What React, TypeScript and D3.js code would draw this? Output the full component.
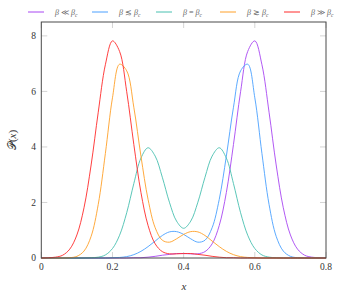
import { useEffect, useRef } from 'react';
import * as d3 from 'd3';

// x grid (0 to 0.8, step 0.02)
const xs = d3.range(0, 41).map(i => +(i * 0.02).toFixed(2));

const purple = [0, 0, 0, 0, 0, 0, 0, 0, 0, 0, 0, 0, 0, 0.01, 0.01, 0.03, 0.06, 0.10, 0.13, 0.16, 0.16, 0.15, 0.15, 0.23, 0.51, 1.17, 2.36, 4.09, 5.99, 7.44, 7.82, 6.96, 5.25, 3.35, 1.81, 0.83, 0.32, 0.10, 0.03, 0.01, 0];
const blue = [0, 0, 0, 0, 0, 0, 0, 0, 0, 0, 0.01, 0.02, 0.05, 0.12, 0.24, 0.41, 0.61, 0.81, 0.94, 0.95, 0.85, 0.69, 0.57, 0.64, 1.09, 2.11, 3.67, 5.43, 6.74, 6.98, 5.77, 3.76, 1.93, 0.78, 0.25, 0.06, 0.01, 0, 0, 0, 0];
const teal = [0, 0, 0, 0, 0, 0, 0, 0.01, 0.03, 0.11, 0.34, 0.82, 1.63, 2.68, 3.60, 3.97, 3.67, 2.91, 2.01, 1.33, 1.07, 1.33, 2.01, 2.91, 3.67, 3.97, 3.60, 2.68, 1.63, 0.82, 0.34, 0.11, 0.03, 0.01, 0, 0, 0, 0, 0, 0, 0];
const orange = [0, 0, 0, 0, 0.01, 0.06, 0.25, 0.78, 1.93, 3.76, 5.77, 6.98, 6.74, 5.43, 3.67, 2.11, 1.09, 0.64, 0.57, 0.69, 0.85, 0.95, 0.94, 0.81, 0.61, 0.41, 0.24, 0.12, 0.05, 0.02, 0.01, 0, 0, 0, 0, 0, 0, 0, 0, 0, 0];
const red = [0, 0.01, 0.03, 0.10, 0.32, 0.83, 1.81, 3.35, 5.25, 6.96, 7.82, 7.44, 5.99, 4.09, 2.36, 1.17, 0.51, 0.23, 0.15, 0.15, 0.16, 0.16, 0.13, 0.10, 0.06, 0.03, 0.01, 0.01, 0, 0, 0, 0, 0, 0, 0, 0, 0, 0, 0, 0, 0];

const seriesNames = ['≪', '≲', '=', '≳', '≫'];
const seriesColors = ['#a846f2', '#4aa0ff', '#48c0b0', '#ffa028', '#ff2a2a'];
const seriesValues = [purple, blue, teal, orange, red];

const xTicks = [0, 0.2, 0.4, 0.6, 0.8];
const yTicks = [0, 2, 4, 6, 8];

const W = 349;
const H = 302;
const left = 41.3, right = 326, top = 22, bottom = 258;
const font = 'Liberation Serif, DejaVu Serif, serif';

export default function App() {
  const svgRef = useRef<SVGSVGElement>(null);

  useEffect(() => {
    if (!svgRef.current) return;
    const svg = d3.select(svgRef.current);
    svg.selectAll('*').remove();

    const x = d3.scaleLinear().domain([0, 0.8]).range([left, right]);
    const y = d3.scaleLinear().domain([0, 8.5]).range([bottom, top]);

    svg.append('rect').attr('width', W).attr('height', H).attr('fill', 'white');

    // inner ticks (light grey) on all four sides
    const tickCol = '#d4d4d4';
    const g = svg.append('g');
    xTicks.forEach(t => {
      g.append('line').attr('x1', x(t)).attr('x2', x(t)).attr('y1', bottom).attr('y2', bottom - 6).attr('stroke', tickCol);
      g.append('line').attr('x1', x(t)).attr('x2', x(t)).attr('y1', top).attr('y2', top + 6).attr('stroke', tickCol);
    });
    yTicks.forEach(t => {
      g.append('line').attr('x1', left).attr('x2', left + 6).attr('y1', y(t)).attr('y2', y(t)).attr('stroke', tickCol);
      g.append('line').attr('x1', right).attr('x2', right - 6).attr('y1', y(t)).attr('y2', y(t)).attr('stroke', tickCol);
    });

    // curves
    const line = d3.line<number>()
      .x((_, i) => x(xs[i]))
      .y(d => y(d))
      .curve(d3.curveCatmullRom.alpha(0.5));

    seriesValues.forEach((vals, i) => {
      svg.append('path')
        .datum(vals)
        .attr('d', line)
        .attr('fill', 'none')
        .attr('stroke', seriesColors[i])
        .attr('stroke-width', 0.9);
    });

    // frame
    svg.append('rect')
      .attr('x', left).attr('y', top)
      .attr('width', right - left).attr('height', bottom - top)
      .attr('fill', 'none').attr('stroke', '#4a4a4a').attr('stroke-width', 1);

    // tick labels
    svg.selectAll('.xl').data(xTicks).enter().append('text')
      .attr('x', d => x(d)).attr('y', 270)
      .attr('text-anchor', 'middle')
      .attr('font-family', font).attr('font-size', 9.5).attr('fill', '#333')
      .text(d => d === 0 ? '0' : d.toString());

    svg.selectAll('.yl').data(yTicks).enter().append('text')
      .attr('x', 36).attr('y', d => y(d) + 3.3)
      .attr('text-anchor', 'end')
      .attr('font-family', font).attr('font-size', 9.5).attr('fill', '#333')
      .text(d => d.toString());

    // axis labels
    svg.append('text')
      .attr('x', 184).attr('y', 290)
      .attr('text-anchor', 'middle')
      .attr('font-family', font).attr('font-size', 11).attr('font-style', 'italic').attr('fill', '#333')
      .text('x');

    const yl = svg.append('text')
      .attr('transform', 'translate(16,140) rotate(-90)')
      .attr('text-anchor', 'middle')
      .attr('font-family', font).attr('font-size', 11).attr('fill', '#333');
    yl.append('tspan').text('𝒫(');
    yl.append('tspan').attr('font-style', 'italic').text('x');
    yl.append('tspan').text(')');

    // legend
    const lg = svg.append('g');
    seriesNames.forEach((rel, i) => {
      const lx = 28 + i * 64;
      lg.append('line')
        .attr('x1', lx).attr('x2', lx + 16).attr('y1', 12).attr('y2', 12)
        .attr('stroke', seriesColors[i]).attr('stroke-width', 1);
      const t = lg.append('text')
        .attr('x', lx + 27).attr('y', 15)
        .attr('font-family', font).attr('font-size', 8).attr('fill', '#666');
      t.append('tspan').attr('font-style', 'italic').text('β');
      t.append('tspan').text(` ${rel} `);
      t.append('tspan').attr('font-style', 'italic').text('β');
      t.append('tspan').attr('dy', 2).attr('font-size', 5.5).attr('font-style', 'italic').text('c');
    });
  }, []);

  return (
    <svg ref={svgRef} width={W} height={H} style={{ position: 'absolute', left: 0, top: 0, display: 'block' }} />
  );
}
